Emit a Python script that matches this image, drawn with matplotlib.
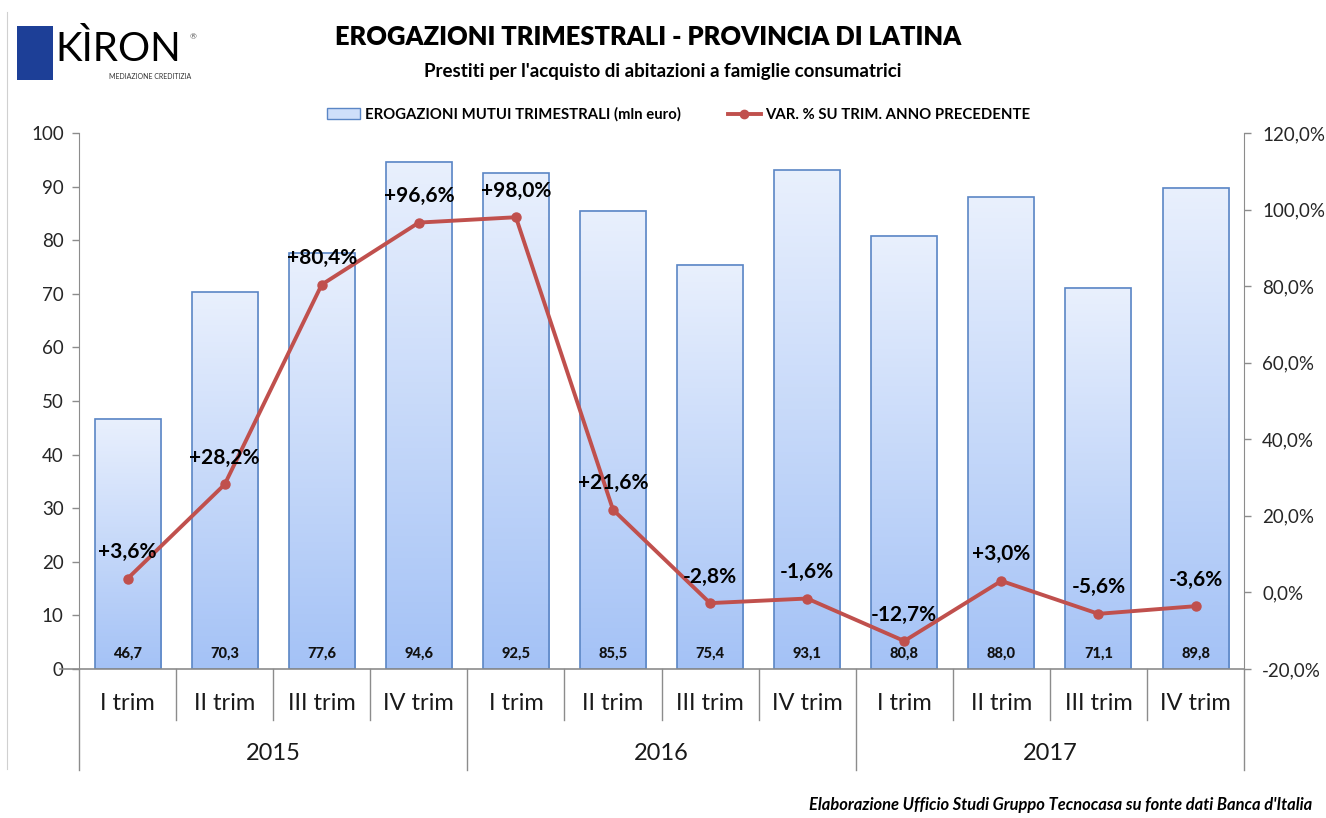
import matplotlib
matplotlib.use("Agg")
import matplotlib.pyplot as plt
import matplotlib.transforms as mtransforms
from matplotlib.patches import Rectangle, Patch
from matplotlib.lines import Line2D
from matplotlib.ticker import FuncFormatter
import numpy as np

plt.rcParams['font.family'] = ['Lato', 'DejaVu Sans']

# data
quarters = ['I trim', 'II trim', 'III trim', 'IV trim'] * 3
years = ['2015', '2016', '2017']
erogazioni = [46.7, 70.3, 77.6, 94.6, 92.5, 85.5, 75.4, 93.1, 80.8, 88.0, 71.1, 89.8]
var_pct = [3.6, 28.2, 80.4, 96.6, 98.0, 21.6, -2.8, -1.6, -12.7, 3.0, -5.6, -3.6]

bar_edge = '#5b86c5'
line_col = '#c0504d'
axis_col = '#8c8c8c'

fig = plt.figure(figsize=(13.26, 8.18), dpi=100)
ax = fig.add_axes([0.0596, 0.1822, 0.8786, 0.6552])
ax2 = ax.twinx()

n = len(erogazioni)
x = np.arange(n)
w = 0.68

# gradient bars
grad = np.linspace(0, 1, 256).reshape(-1, 1)
cmap = matplotlib.colors.LinearSegmentedColormap.from_list('g', ['#a4c2f6', '#e9f0fd'])
for xi, v in zip(x, erogazioni):
    ax.imshow(grad, extent=[xi - w / 2, xi + w / 2, 0, v], aspect='auto',
              cmap=cmap, origin='lower', zorder=1, interpolation='bicubic')
    ax.add_patch(Rectangle((xi - w / 2, 0), w, v, facecolor='none',
                           edgecolor=bar_edge, lw=1.2, zorder=2))
    ax.text(xi, 2.9, f'{v:.1f}'.replace('.', ','), ha='center', va='center',
            fontsize=10.5, fontweight='black', color='#111111', zorder=3)
ax.set_xlim(-0.5, n - 0.5)
ax.set_ylim(0, 100)
ax.set_aspect('auto')

# line on secondary axis
ax2.set_ylim(-20, 120)
ax2.plot(x, var_pct, color=line_col, lw=2.8, marker='o', markersize=6.5, zorder=5)
for xi, v in zip(x, var_pct):
    lbl = ('+' if v > 0 else '') + f'{v:.1f}'.replace('.', ',') + '%'
    ax2.text(xi, v + 4.3, lbl, ha='center', va='bottom', fontsize=15,
             fontweight='bold', color='black', zorder=6)

# axes styling
ax.set_yticks(range(0, 101, 10))
ax2.set_yticks(range(-20, 121, 20))
ax2.yaxis.set_major_formatter(FuncFormatter(lambda v, p: f'{v:.1f}'.replace('.', ',') + '%'))
for a in (ax, ax2):
    for s in a.spines.values():
        s.set_visible(False)
    a.tick_params(axis='y', labelsize=13.5, colors=axis_col, labelcolor='#262626',
                  length=5, width=1)
ax.spines['left'].set_visible(True)
ax.spines['left'].set_color(axis_col)
ax2.spines['right'].set_visible(True)
ax2.spines['right'].set_color(axis_col)
ax.set_xticks([])
ax.tick_params(axis='y', pad=6)
ax2.tick_params(axis='y', pad=8)

# category axis drawn by hand
tr = mtransforms.blended_transform_factory(ax.transData, ax.transAxes)
ax.plot([-0.7, n - 0.5], [0, 0], color=axis_col, lw=1.2, transform=tr, clip_on=False, zorder=4)
for b in range(n + 1):
    bx = b - 0.5
    bottom = -0.188 if b % 4 == 0 else -0.095
    ax.plot([bx, bx], [0, bottom], color=axis_col, lw=1, transform=tr, clip_on=False)
for xi, q in zip(x, quarters):
    ax.text(xi, -0.064, q, ha='center', va='center', fontsize=17, color='#1a1a1a',
            transform=tr)
for i, yr in enumerate(years):
    ax.text(4 * i + 1.5, -0.158, yr, ha='center', va='center', fontsize=17,
            color='#1a1a1a', transform=tr)

# titles
fig.text(0.489, 0.955, 'EROGAZIONI TRIMESTRALI - PROVINCIA DI LATINA', ha='center',
         va='center', fontsize=18.4, fontweight='heavy', color='black')
fig.text(0.5, 0.912, "Prestiti per l'acquisto di abitazioni a famiglie consumatrici",
         ha='center', va='center', fontsize=13.5, fontweight='bold', color='black')

# legend
handles = [Patch(facecolor='#cfdffa', edgecolor=bar_edge, lw=1),
           Line2D([0], [0], color=line_col, lw=2.8, marker='o', markersize=6)]
labels = ['EROGAZIONI MUTUI TRIMESTRALI (mln euro)', 'VAR. % SU TRIM. ANNO PRECEDENTE']
leg = fig.legend(handles, labels, loc='center', bbox_to_anchor=(0.512, 0.86), ncol=2,
                 frameon=False, prop={'weight': 'bold', 'size': 10.7},
                 columnspacing=3.2, handlelength=2.2, handletextpad=0.3)

# logo
fig.patches.append(Rectangle((0.013, 0.902), 0.027, 0.066, transform=fig.transFigure,
                             facecolor='#1d3f97', edgecolor='none'))
fig.text(0.042, 0.94, 'KÌRON', fontsize=29, color='black', ha='left', va='center')
fig.text(0.082, 0.907, 'MEDIAZIONE CREDITIZIA', fontsize=5, color='#333333',
         ha='left', va='center')
fig.text(0.143, 0.955, '®', fontsize=6, color='#555555', ha='left', va='center')
fig.add_artist(Line2D([0.0055, 0.0055], [0.06, 0.985], transform=fig.transFigure,
                      color='#d0d0d0', lw=0.8))

# footer
fig.text(0.99, 0.016, "Elaborazione Ufficio Studi Gruppo Tecnocasa su fonte dati Banca d'Italia",
         ha='right', va='center', fontsize=11.9, fontstyle='italic', fontweight='bold',
         color='black')

fig.savefig('out.png', dpi=100, facecolor='white')
